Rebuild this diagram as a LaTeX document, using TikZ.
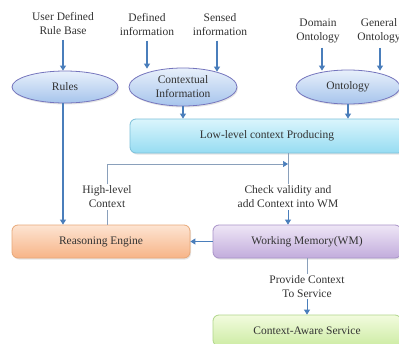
\documentclass[tikz,border=0pt]{standalone}
\usepackage{fontspec}
\setmainfont{Liberation Serif}
\usetikzlibrary{arrows.meta,shapes.geometric,shadows}
\definecolor{arrblue}{HTML}{4A7EBB}
\definecolor{thinln}{HTML}{8AA0BB}
\definecolor{txt}{HTML}{333333}
\begin{document}
\begin{tikzpicture}[x=1pt,y=-1pt,
  font=\fontsize{11.5}{14}\selectfont, text=txt,
  lbl/.style={align=center, inner sep=1.5pt},
  ell/.style={ellipse, draw=#1, line width=0.8pt, inner sep=0pt, align=center,
    drop shadow={shadow xshift=1pt,shadow yshift=-1.5pt,opacity=0.2}},
  boxx/.style={rectangle, rounded corners=6pt, line width=0.8pt, inner sep=0pt, align=center,
    drop shadow={shadow xshift=1pt,shadow yshift=-1.5pt,opacity=0.2}},
  arr/.style={draw=arrblue, line width=1.1pt, -{Triangle[width=6pt,length=5pt]}},
  thin/.style={draw=thinln, line width=0.7pt},
  thinarr/.style={draw=thinln, line width=0.7pt, -{Triangle[width=6pt,length=5pt,color=arrblue]}},
]
\useasboundingbox (0,0) rectangle (399,343);
\clip (0,0) rectangle (399,343);
\fill[white] (0,0) rectangle (399,343);

% source texts
\node[lbl] (udr) at (63,24) {User Defined\\Rule Base};
\node[lbl] (def) at (147,25) {Defined\\information};
\node[lbl] (sen) at (220,25) {Sensed\\information};
\node[lbl] (dom) at (318,31) {Domain\\Ontology};
\node[lbl] (gen) at (379,31) {General\\Ontology};

% ellipses
\node[ell=blue!35!gray!80, top color={rgb,255:red,232;green,240;blue,251}, bottom color={rgb,255:red,166;green,196;blue,236},
  minimum width=106pt, minimum height=32pt] (rules) at (65,87) {Rules};
\node[ell=blue!35!gray!80, top color={rgb,255:red,232;green,240;blue,251}, bottom color={rgb,255:red,166;green,196;blue,236},
  minimum width=108pt, minimum height=38pt] (ctx) at (183,87) {Contextual\\Information};
\node[ell=blue!35!gray!80, top color={rgb,255:red,232;green,240;blue,251}, bottom color={rgb,255:red,166;green,196;blue,236},
  minimum width=104pt, minimum height=34pt] (onto) at (348,87) {Ontology};

% boxes
\node[boxx, draw={rgb,255:red,124;green,192;blue,218}, top color={rgb,255:red,218;green,245;blue,252}, bottom color={rgb,255:red,150;green,220;blue,242},
  minimum width=274pt, minimum height=34pt] (ll) at (267,136) {Low-level context Producing};
\node[boxx, draw={rgb,255:red,232;green,168;blue,120}, top color={rgb,255:red,253;green,228;blue,210}, bottom color={rgb,255:red,247;green,180;blue,135},
  minimum width=178pt, minimum height=33pt] (re) at (101,241.5) {Reasoning Engine};
\node[boxx, draw={rgb,255:red,168;green,146;blue,200}, top color={rgb,255:red,238;green,230;blue,246}, bottom color={rgb,255:red,194;green,172;blue,220},
  minimum width=188pt, minimum height=33pt] (wm) at (307,241.5) {Working Memory(WM)};
\node[boxx, draw={rgb,255:red,176;green,214;blue,138}, top color={rgb,255:red,242;green,251;blue,222}, bottom color={rgb,255:red,205;green,236;blue,164},
  minimum width=188pt, minimum height=31pt] (cas) at (307,330.5) {Context-Aware Service};

% connector texts
\node[lbl] (hl) at (107,197) {High-level\\Context};
\node[lbl] (chk) at (288,197) {Check validity and\\add Context into WM};
\node[lbl] (prov) at (307,286.5) {Provide Context\\To Service};

\coordinate (xu) at (63,0);
\coordinate (xd) at (147,0);
\coordinate (xs) at (217,0);
\coordinate (xo) at (322,0);
\coordinate (xg) at (380,0);
\coordinate (join) at (288,164);

% input arrows
\draw[arr, shorten <=3pt] (udr.south -| xu) -- (xu |- rules.north);
\draw[arr, shorten <=3pt] (def.south -| xd) -- ([yshift=-1pt]xd |- ctx.north);
\draw[arr, shorten <=3pt] (sen.south -| xs) -- ([yshift=-4pt]xs |- ctx.north);
\draw[arr, shorten <=3pt] (dom.south -| xo) -- ([yshift=-1pt]xo |- onto.north);
\draw[arr, shorten <=3pt] (gen.south -| xg) -- ([yshift=-1pt]xg |- onto.north);

% to low-level
\draw[arr] (ctx.south) -- (ctx.south |- ll.north);
\draw[arr] (onto.south) -- (onto.south |- ll.north);

% rules to reasoning
\draw[arr] (rules.south -| xu) -- (xu |- re.north);

% low-level to WM
\draw[thin] (ll.south -| join) -- (chk.north -| join);
\draw[arr, line width=0.8pt] (chk.south -| join) -- (join |- wm.north);

% high-level feedback
\draw[thin] (re.north -| hl) -- (hl.south);
\draw[thinarr] (hl.north) |- (join);

% WM to reasoning
\draw[arr] (wm.west) -- (re.east);

% WM to service
\draw[thin] (wm.south -| prov) -- (prov.north);
\draw[arr, line width=0.8pt] (prov.south) -- (prov.south |- cas.north);
\end{tikzpicture}
\end{document}
